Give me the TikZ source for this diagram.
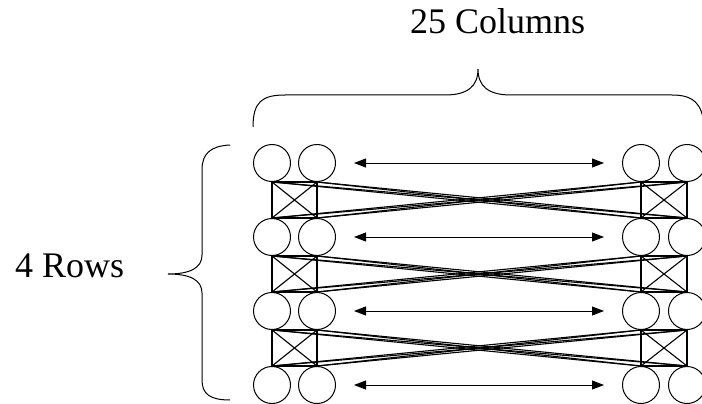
\documentclass[tikz,border=0pt]{standalone}
\usepackage{fontspec}
\setmainfont{Liberation Serif}
\usetikzlibrary{arrows.meta}
\begin{document}
\begin{tikzpicture}[x=1pt,y=-1pt,
  cell/.style={circle,draw,line width=1pt,minimum size=37pt,inner sep=0pt},
  link/.style={line width=1.1pt},
  span/.style={line width=0.9pt,{Triangle[length=12pt,width=9pt]}-{Triangle[length=12pt,width=9pt]}},
  brace/.style={line width=1pt},
  caption/.style={font=\fontsize{36}{40}\selectfont,inner sep=0pt}]
\useasboundingbox (0,0) rectangle (702,404);
\clip (0,0) rectangle (702,404);

% processor cells: two leftmost and two rightmost columns of each row
\foreach \r/\y in {1/163,2/237,3/311,4/385}{
  \foreach \k/\x in {1/272,2/317,3/641,4/687}
    \node[cell] (c\r\k) at (\x,\y) {};
  \coordinate (al\r) at (354,\y);
  \coordinate (ar\r) at (604,\y);
  \draw[span] (al\r) -- (ar\r);
}

% links between row r and row r+1
\foreach \r/\s in {1/2,2/3,3/4}{
  \foreach \k in {1,2,3,4}
    \draw[link] (c\r\k.south) -- (c\s\k.north);
  \draw[link] (c\r1.south) -- (c\r2.south);
  \draw[link] (c\s1.north) -- (c\s2.north);
  \draw[link] (c\r3.south) -- (c\r4.south);
  \draw[link] (c\s3.north) -- (c\s4.north);
  \draw[link] (c\r1.south) -- (c\s2.north);
  \draw[link] (c\r2.south) -- (c\s1.north);
  \draw[link] (c\r3.south) -- (c\s4.north);
  \draw[link] (c\r4.south) -- (c\s3.north);
  \foreach \a in {1,2}
    \foreach \b in {3,4}{
      \draw[link] (c\r\a.south) -- (c\s\b.north);
      \draw[link] (c\s\a.north) -- (c\r\b.south);
    }
}

% braces
\draw[brace] (253,127) .. controls (253,102) and (262,95) .. (285,95)
  -- (445,95) .. controls (468,95) and (478,86) .. (478,69)
  .. controls (478,86) and (488,95) .. (511,95)
  -- (672,95) .. controls (694,95) and (702,104) .. (704,125);
\draw[brace] (230,145) .. controls (210,146) and (202,154) .. (202,170)
  -- (202,255) .. controls (202,268) and (190,274) .. (168,274)
  .. controls (190,274) and (202,280) .. (202,293)
  -- (202,380) .. controls (202,394) and (210,400) .. (230,400);

\node[caption,anchor=base west] (cols) at (410,34) {25 Columns};
\node[caption,anchor=base west] (rows) at (15,277) {4 Rows};
\end{tikzpicture}
\end{document}
